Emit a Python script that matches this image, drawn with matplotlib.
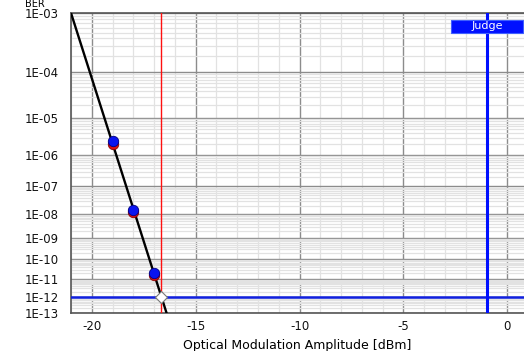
import numpy as np
import matplotlib
matplotlib.use("Agg")
import matplotlib.pyplot as plt
import matplotlib.ticker as mticker
from matplotlib.patches import Rectangle

# measured points (OMA in dBm, BER) - two runs per OMA setting
oma = [-19, -18, -17]
ber_a = [2.4e-6, 1.4e-8, 2.0e-11]
ber_b = [2.0e-6, 1.2e-8, 1.6e-11]

# extrapolated fit line
fit_oma = [-21.0, -16.4]
fit_ber = [1e-3, 1e-13]

# sensitivity at target BER and the judge limit
target_ber = 1e-12
sens_oma = -16.67
judge_oma = -1.0

y_ticks = [10.0 ** -k for k in range(3, 14)]
y_labels = [f"1E-{k:02d}" for k in range(3, 14)]
x_ticks = [-20, -15, -10, -5, 0]


def fwd(b):
    b = np.clip(b, 1e-300, 0.999999)
    return -np.log10(-np.log10(b))


def inv(y):
    return 10.0 ** (-(10.0 ** (-y)))


plt.rcParams["font.family"] = ["DejaVu Sans"]
plt.rcParams["axes.unicode_minus"] = False

fig = plt.figure(figsize=(5.24, 3.51), dpi=100)
ax = fig.add_axes([0.1355, 0.108, 0.8645, 0.855])

ax.set_yscale("function", functions=(fwd, inv))
ax.set_ylim(1e-13, 1e-3)
ax.set_xlim(-21, 0.8)

ax.yaxis.set_major_locator(mticker.FixedLocator(y_ticks))
ax.yaxis.set_major_formatter(mticker.FixedFormatter(y_labels))
ax.yaxis.set_minor_locator(mticker.LogLocator(base=10, subs=range(2, 10), numticks=100))
ax.yaxis.set_minor_formatter(mticker.NullFormatter())
ax.xaxis.set_major_locator(mticker.FixedLocator(x_ticks))
ax.xaxis.set_minor_locator(mticker.MultipleLocator(1))

ax.grid(which="minor", color="#e2e2e2", lw=0.9)
ax.grid(which="major", color="#8c8c8c", lw=1.0)
ax.set_axisbelow(True)
ax.tick_params(which="both", length=0, labelsize=8.5, colors="#111111")
ax.tick_params(axis="y", pad=9)
ax.tick_params(axis="x", pad=5)

for side in ["left", "top", "bottom"]:
    ax.spines[side].set_color("#555555")
    ax.spines[side].set_linewidth(1.2)
ax.spines["right"].set_visible(False)

ax.axvline(sens_oma, color="#ff1010", lw=1.0, zorder=3)
ax.axhline(target_ber, color="#1020e0", lw=1.8, zorder=3)
ax.axvline(judge_oma, color="#0010ff", lw=2.2, zorder=3)

ax.plot(fit_oma, fit_ber, color="black", lw=1.7, zorder=4)

ax.plot(oma, ber_b, "o", ms=7.5, mfc="#e01010", mec="#8a0000", mew=0.6, zorder=5)
ax.plot(oma, ber_a, "o", ms=7.5, mfc="#0a14f0", mec="#000080", mew=0.6, zorder=6)

ax.plot([sens_oma], [target_ber], "D", ms=6.5, mfc="white", mec="#777777", mew=0.8, zorder=7)

ax.set_xlabel("Optical Modulation Amplitude [dBm]", fontsize=9, labelpad=4)

fig.text(0.048, 1 - 7 / 351, "BER", fontsize=7, ha="left", va="baseline")

# judge badge in the top right corner
ax.add_patch(Rectangle((0.839, 0.933), 0.159, 0.044, transform=ax.transAxes,
                       fc="#0010ff", ec="#4060ff", lw=0.8, zorder=8, clip_on=False))
ax.text(0.9185, 0.955, "Judge", transform=ax.transAxes, ha="center", va="center",
        color="white", fontsize=8, zorder=9)

fig.savefig("out.png", dpi=100)
